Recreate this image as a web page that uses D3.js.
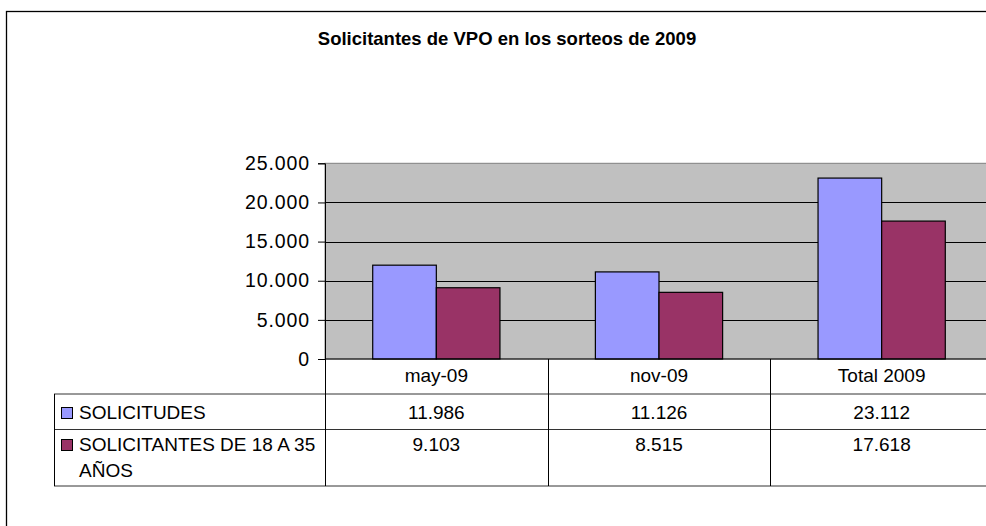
<!DOCTYPE html>
<html>
<head>
<meta charset="utf-8">
<script src="https://cdn.jsdelivr.net/npm/d3@7"></script>
<style>
    body { margin: 0; background: #fff; }
    text { font-family: "Liberation Sans", Arial, sans-serif; fill: #000; }
</style>
</head>
<body>
<svg id="chart" width="986" height="526"></svg>
<script>
const title = "Solicitantes de VPO en los sorteos de 2009";
const categories = ["may-09", "nov-09", "Total 2009"];
const seriesNames = ["SOLICITUDES", "SOLICITANTES DE 18 A 35 AÑOS"];
const seriesLabelLines = [["SOLICITUDES"], ["SOLICITANTES DE 18 A 35", "AÑOS"]];
const solicitudes = [11986, 11126, 23112];
const solicitantes18a35 = [9103, 8515, 17618];
const yTicks = [0, 5000, 10000, 15000, 20000, 25000];
const colors = ["#9999FF", "#993366"];

const series = [solicitudes, solicitantes18a35];

const svg = d3.select("#chart");
const width = 986;
const height = 526;

// layout of the plot and the data table under it
const plotLeft = 325, plotRight = 993, plotTop = 163.3, plotBottom = 359;
const tableLeft = 54;
const rowLines = [359, 394, 429.5, 486];

const locale = d3.formatLocale({ decimal: ",", thousands: ".", grouping: [3], currency: ["", "€"] });
const fmt = locale.format(",d");

// chart frame
svg.append("rect")
    .attr("x", 6.5).attr("y", 11.5)
    .attr("width", 1000).attr("height", 600)
    .attr("fill", "#fff")
    .attr("stroke", "#000")
    .attr("stroke-width", 1.3);

svg.append("text")
    .attr("x", 507)
    .attr("y", 45)
    .attr("text-anchor", "middle")
    .attr("font-size", "18.5px")
    .attr("font-weight", "bold")
    .text(title);

const x = d3.scaleBand()
    .domain(categories)
    .range([plotLeft, plotRight])
    .paddingInner(0)
    .paddingOuter(0);

const xSub = d3.scaleBand()
    .domain(d3.range(series.length))
    .range([0, x.bandwidth()])
    .paddingInner(0)
    .paddingOuter(0.75);

const y = d3.scaleLinear()
    .domain([0, 25000])
    .range([plotBottom, plotTop]);

// plot background
svg.append("rect")
    .attr("x", plotLeft)
    .attr("y", y(25000))
    .attr("width", plotRight - plotLeft)
    .attr("height", y(0) - y(25000))
    .attr("fill", "#C0C0C0")
    .attr("stroke", "#808080")
    .attr("stroke-width", 1);

// gridlines
svg.append("g")
    .selectAll("line")
    .data(yTicks.filter(d => d > 0 && d < 25000))
    .enter()
    .append("line")
    .attr("x1", plotLeft)
    .attr("x2", plotRight)
    .attr("y1", d => Math.round(y(d)) + 0.5)
    .attr("y2", d => Math.round(y(d)) + 0.5)
    .attr("stroke", "#000")
    .attr("stroke-width", 1);

// bars
series.forEach((values, i) => {
    svg.append("g")
        .selectAll("rect")
        .data(values)
        .enter()
        .append("rect")
        .attr("x", (d, j) => x(categories[j]) + xSub(i))
        .attr("y", d => y(d))
        .attr("width", xSub.bandwidth())
        .attr("height", d => y(0) - y(d))
        .attr("fill", colors[i])
        .attr("stroke", "#000")
        .attr("stroke-width", 1.2);
});

// y axis
const yAxis = d3.axisLeft(y)
    .tickValues(yTicks)
    .tickSize(7)
    .tickPadding(8)
    .tickFormat(d => fmt(d));

const gy = svg.append("g")
    .attr("transform", `translate(${plotLeft},0)`)
    .call(yAxis);
gy.select(".domain").attr("stroke", "#000");
gy.selectAll(".tick line").attr("stroke", "#000");
gy.selectAll(".tick text")
    .attr("font-size", "19.5px")
    .attr("letter-spacing", "0.9px")
    .attr("fill", "#000")
    .attr("font-family", "'Liberation Sans', Arial, sans-serif");

// data table
const table = svg.append("g");
const lineColor = "#000";

table.append("line")
    .attr("x1", plotLeft).attr("x2", plotRight)
    .attr("y1", rowLines[0]).attr("y2", rowLines[0])
    .attr("stroke", lineColor);

rowLines.slice(1).forEach(ry => {
    table.append("line")
        .attr("x1", tableLeft).attr("x2", plotRight)
        .attr("y1", ry).attr("y2", ry)
        .attr("stroke", "#333");
});

table.append("line")
    .attr("x1", tableLeft + 0.5).attr("x2", tableLeft + 0.5)
    .attr("y1", rowLines[1]).attr("y2", rowLines[3])
    .attr("stroke", lineColor);

categories.concat([null]).forEach((c, i) => {
    const vx = Math.round(plotLeft + i * x.step()) + 0.5;
    table.append("line")
        .attr("x1", vx).attr("x2", vx)
        .attr("y1", rowLines[0]).attr("y2", rowLines[3])
        .attr("stroke", lineColor);
});

table.selectAll(".cat")
    .data(categories)
    .enter()
    .append("text")
    .attr("class", "cat")
    .attr("x", d => x(d) + x.bandwidth() / 2)
    .attr("y", 382)
    .attr("text-anchor", "middle")
    .attr("font-size", "19px")
    .text(d => d);

const rowBaselines = [419, 451];

series.forEach((values, i) => {
    table.append("rect")
        .attr("x", 61.5)
        .attr("y", rowBaselines[i] - 11.5)
        .attr("width", 11)
        .attr("height", 11)
        .attr("fill", colors[i])
        .attr("stroke", "#000")
        .attr("stroke-width", 1);

    const label = table.append("text")
        .attr("x", 79)
        .attr("y", rowBaselines[i])
        .attr("font-size", "19px");
    label.selectAll("tspan")
        .data(seriesLabelLines[i])
        .enter()
        .append("tspan")
        .attr("x", 79)
        .attr("dy", (d, k) => k === 0 ? 0 : 26)
        .text(d => d);

    table.selectAll(`.val${i}`)
        .data(values)
        .enter()
        .append("text")
        .attr("class", `val${i}`)
        .attr("x", (d, j) => x(categories[j]) + x.bandwidth() / 2)
        .attr("y", rowBaselines[i])
        .attr("text-anchor", "middle")
        .attr("font-size", "19px")
        .text(d => fmt(d));
});
</script>
</body>
</html>
